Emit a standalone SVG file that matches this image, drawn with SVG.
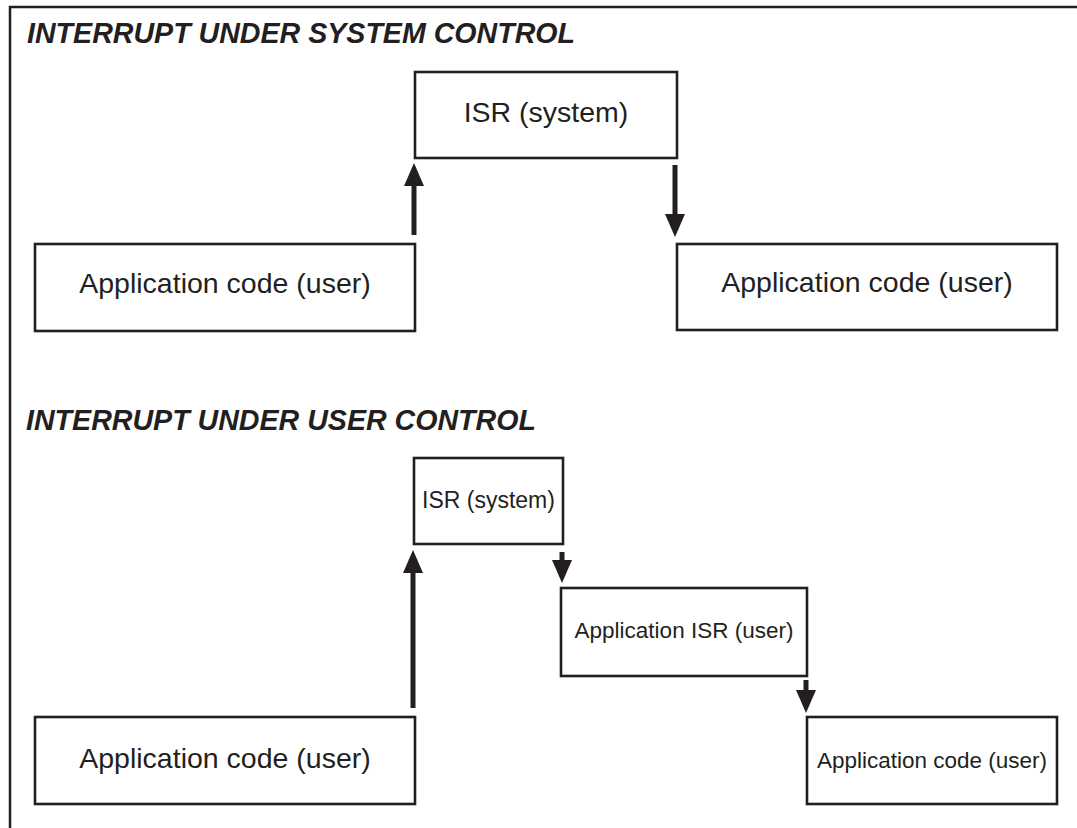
<svg xmlns="http://www.w3.org/2000/svg" width="1077" height="828" viewBox="0 0 1077 828">
<defs>
<style>
.box{fill:#fff;stroke:#231f20;stroke-width:2.6}
.lbl{font-family:"Liberation Sans",Arial,sans-serif;fill:#231f20;text-anchor:middle}
.big{font-size:28.5px}
.small{font-size:22.5px}
.sm2{font-size:23px}
.title{font-family:"Liberation Sans",Arial,sans-serif;font-size:28.6px;font-weight:bold;font-style:italic;fill:#231f20}
.conn{stroke:#231f20;stroke-width:5;fill:none}
.frame{stroke:#231f20;stroke-width:2.5;fill:none}
</style>
<marker id="ah" viewBox="0 0 23 20" refX="0" refY="10" markerWidth="23" markerHeight="20" markerUnits="userSpaceOnUse" orient="auto">
<path d="M0,0 L23,10 L0,20 Z" fill="#231f20"/>
</marker>
</defs>
<rect width="1077" height="828" fill="#fff"/>
<path class="frame" d="M10,828 V7 H1077"/>
<text class="title" x="27" y="43">INTERRUPT UNDER SYSTEM CONTROL</text>
<text class="title" x="26" y="430">INTERRUPT UNDER USER CONTROL</text>
<g id="connectors">
<line class="conn" x1="414" y1="235" x2="414" y2="186" marker-end="url(#ah)"/>
<line class="conn" x1="675" y1="165" x2="675" y2="214" marker-end="url(#ah)"/>
<line class="conn" x1="413" y1="708" x2="413" y2="573" marker-end="url(#ah)"/>
<line class="conn" x1="562" y1="552" x2="562" y2="560" marker-end="url(#ah)"/>
<line class="conn" x1="806" y1="680" x2="806" y2="690" marker-end="url(#ah)"/>
</g>
<g id="isr1">
<rect class="box" x="415" y="72" width="262" height="86"/>
<text class="lbl big" x="546" y="122">ISR (system)</text>
</g>
<g id="app1">
<rect class="box" x="35" y="244" width="380" height="87"/>
<text class="lbl big" x="225" y="293">Application code (user)</text>
</g>
<g id="app2">
<rect class="box" x="677" y="244" width="380" height="86"/>
<text class="lbl big" x="867" y="292">Application code (user)</text>
</g>
<g id="isr2">
<rect class="box" x="414" y="458" width="149" height="86"/>
<text class="lbl sm2" x="488.5" y="508">ISR (system)</text>
</g>
<g id="appisr">
<rect class="box" x="561" y="588" width="246" height="88"/>
<text class="lbl small" x="684" y="638">Application ISR (user)</text>
</g>
<g id="app3">
<rect class="box" x="35" y="717" width="380" height="87"/>
<text class="lbl big" x="225" y="768">Application code (user)</text>
</g>
<g id="app4">
<rect class="box" x="807" y="717" width="250" height="87"/>
<text class="lbl small" x="932" y="768">Application code (user)</text>
</g>
</svg>
